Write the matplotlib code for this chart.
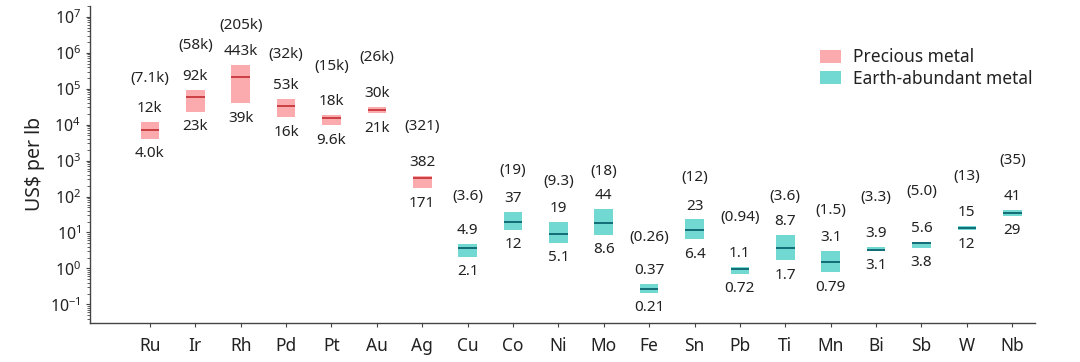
import matplotlib
matplotlib.use("Agg")
import matplotlib.pyplot as plt
from matplotlib.patches import Patch
import numpy as np

plt.rcParams['font.family'] = ['Noto Sans', 'DejaVu Sans']
plt.rcParams['mathtext.fontset'] = 'custom'
plt.rcParams['mathtext.rm'] = 'Noto Sans'
plt.rcParams['mathtext.it'] = 'Noto Sans'

# data (US$ per lb)
metals = ['Ru', 'Ir', 'Rh', 'Pd', 'Pt', 'Au', 'Ag', 'Cu', 'Co', 'Ni',
          'Mo', 'Fe', 'Sn', 'Pb', 'Ti', 'Mn', 'Bi', 'Sb', 'W', 'Nb']
low = [4.0e3, 23e3, 39e3, 16e3, 9.6e3, 21e3, 171, 2.1, 12, 5.1,
       8.6, 0.21, 6.4, 0.72, 1.7, 0.79, 3.1, 3.8, 12, 29]
high = [12e3, 92e3, 443e3, 53e3, 18e3, 30e3, 382, 4.9, 37, 19,
        44, 0.37, 23, 1.1, 8.7, 3.1, 3.9, 5.6, 15, 41]
mid = [7.1e3, 58e3, 205e3, 32e3, 15e3, 26e3, 321, 3.6, 19, 9.3,
       18, 0.26, 12, 0.94, 3.6, 1.5, 3.3, 5.0, 13, 35]
low_lbl = ['4.0k', '23k', '39k', '16k', '9.6k', '21k', '171', '2.1', '12', '5.1',
           '8.6', '0.21', '6.4', '0.72', '1.7', '0.79', '3.1', '3.8', '12', '29']
high_lbl = ['12k', '92k', '443k', '53k', '18k', '30k', '382', '4.9', '37', '19',
            '44', '0.37', '23', '1.1', '8.7', '3.1', '3.9', '5.6', '15', '41']
mid_lbl = ['7.1k', '58k', '205k', '32k', '15k', '26k', '321', '3.6', '19', '9.3',
           '18', '0.26', '12', '0.94', '3.6', '1.5', '3.3', '5.0', '13', '35']
n_precious = 7

PINK, RED = '#fbabae', '#c8363a'
TEAL, DTEAL = '#72d8d2', '#0b6470'
TXT = '#222222'

fig = plt.figure(figsize=(10.8, 3.62), dpi=100)
ax = fig.add_axes([0.0833, 0.1085, 0.875, 0.876])

x = np.arange(len(metals))
w = 0.41
for i in x:
    fc, lc = (PINK, RED) if i < n_precious else (TEAL, DTEAL)
    ax.bar(i, high[i] - low[i], bottom=low[i], width=w, color=fc, linewidth=0)
    ax.hlines(mid[i], i - w / 2, i + w / 2, color=lc, lw=1.3)
    ax.annotate(high_lbl[i], (i, high[i]), xytext=(0, 9.7), textcoords='offset points',
                ha='center', va='center', fontsize=11, color=TXT)
    ax.annotate(low_lbl[i], (i, low[i]), xytext=(0, -10.8), textcoords='offset points',
                ha='center', va='center', fontsize=11, color=TXT)
    ax.annotate('(' + mid_lbl[i] + ')', (i, mid[i]), xytext=(0, 37.4), textcoords='offset points',
                ha='center', va='center', fontsize=11, color=TXT)

ax.set_yscale('log')
ax.set_ylim(10 ** -1.51, 10 ** 7.31)
ax.set_xlim(-1.32, 19.5)
ax.set_yticks([10.0 ** k for k in range(-1, 8)])
ax.set_xticks(x)
ax.set_xticklabels(metals, fontsize=12.5, color=TXT)
ax.tick_params(axis='y', labelsize=11.5, labelcolor=TXT, length=3, width=0.8, color='#444444')
ax.tick_params(axis='y', which='minor', length=2, width=0.6, color='#444444')
ax.tick_params(axis='x', length=3, width=0.8, color='#444444', pad=7)
ax.set_ylabel('US$ per lb', fontsize=14, color=TXT, labelpad=4)

for s in ['top', 'right']:
    ax.spines[s].set_visible(False)
for s in ['left', 'bottom']:
    ax.spines[s].set_color('#444444')
    ax.spines[s].set_linewidth(1.0)

handles = [Patch(facecolor=PINK, label='Precious metal'),
           Patch(facecolor=TEAL, label='Earth-abundant metal')]
fig.legend(handles=handles, loc='upper left', bbox_to_anchor=(0.745, 0.91),
           frameon=False, fontsize=12.5, handlelength=1.2, handleheight=0.8,
           handletextpad=0.7, labelspacing=0.2, labelcolor=TXT)

fig.savefig('out.png', dpi=100)
